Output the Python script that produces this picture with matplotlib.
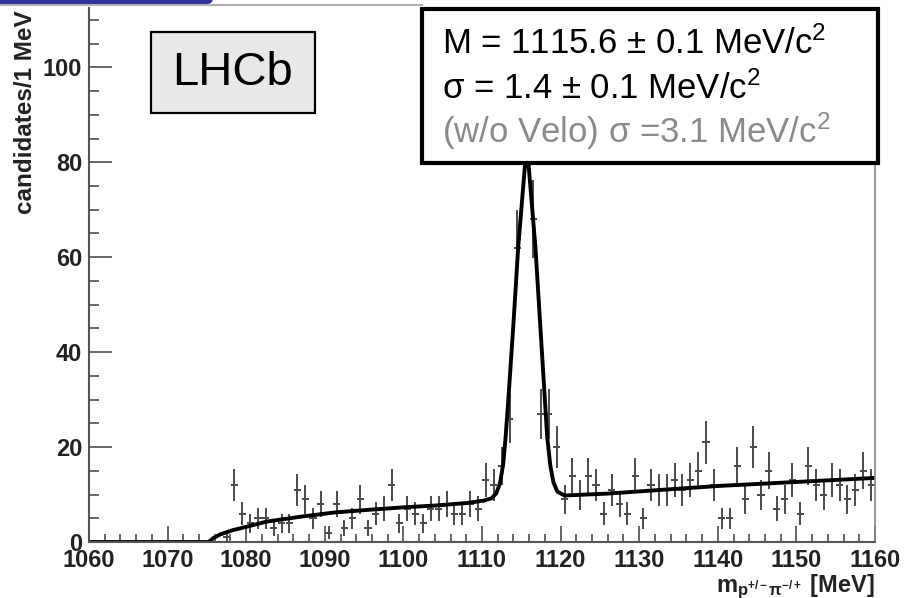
import numpy as np
import matplotlib
matplotlib.use('Agg')
import matplotlib.pyplot as plt
from matplotlib.patches import Rectangle, FancyBboxPatch
from matplotlib.lines import Line2D
from matplotlib.ticker import MultipleLocator
from matplotlib.transforms import IdentityTransform

plt.rcParams['font.family'] = ['Liberation Sans', 'DejaVu Sans']
plt.rcParams['mathtext.fontset'] = 'custom'
plt.rcParams['mathtext.rm'] = 'Liberation Sans'
plt.rcParams['mathtext.it'] = 'Liberation Sans:italic'
plt.rcParams['mathtext.bf'] = 'Liberation Sans:bold'

# 1 MeV bins, lower edges 1060 ... 1159
bin_low = np.arange(1060, 1160)
counts = [0, 0, 0, 0, 0, 0, 0, 0, 0, 0,
          0, 0, 0, 0, 0, 0, 0, 1, 12, 6,
          4, 5, 5, 3, 4, 4, 11, 9, 5, 8,
          2, 8, 3, 5, 9, 3, 6, 7, 12, 4,
          7, 6, 4, 7, 7, 8, 6, 6, 8, 7,
          13, 12, 16, 26, 62, 92, 68, 27, 27, 20,
          9, 14, 10, 14, 12, 6, 11, 8, 6, 14,
          5, 12, 11, 11, 13, 11, 13, 15, 21, 12,
          5, 5, 16, 9, 20, 10, 15, 7, 9, 13,
          6, 16, 12, 10, 13, 12, 9, 11, 15, 12]

# fitted curve
fit_x = [1060, 1075.2, 1075.8, 1076.7, 1078.3, 1080.5, 1082.6, 1086.8, 1091.1,
         1095.7, 1100.0, 1104.2, 1108.0, 1110.2, 1111.2, 1111.8, 1112.3, 1112.7,
         1113.0, 1113.35, 1114.0, 1114.6, 1115.45, 1115.7, 1115.95, 1116.8,
         1117.4, 1118.0, 1118.3, 1118.7, 1119.1, 1119.6, 1120.5, 1126.0,
         1140.0, 1160]
fit_y = [0, 0, 0.8, 1.6, 2.5, 3.4, 4.3, 5.3, 6.2,
         6.8, 7.3, 7.7, 8.2, 8.7, 9.2, 10.2, 12.4, 16.5,
         22, 30, 46, 62, 79, 86, 79, 62,
         46, 30, 22, 16, 12.5, 10.6, 9.8, 10.2,
         11.8, 13.5]

fit_lines = ['M = 1115.6 \u00b1 0.1 MeV/c$^{\\mathregular{2}}$',
             '\u03c3 = 1.4 \u00b1 0.1 MeV/c$^{\\mathregular{2}}$',
             '(w/o Velo) \u03c3 =3.1 MeV/c$^{\\mathregular{2}}$']
line_colors = ['black', 'black', '#8a8a8a']

W, H = 909, 598
fig = plt.figure(figsize=(W / 100, H / 100), dpi=100)
ax = fig.add_axes([89 / W, 1 - 542 / H, (875 - 89) / W, (542 - 8) / H])

centers = bin_low + 0.5
counts = np.array(counts, dtype=float)
ax.errorbar(centers, counts, yerr=np.sqrt(counts), xerr=0.45, fmt='none',
            ecolor='#4a4a4a', elinewidth=1.4)
ax.plot(fit_x, fit_y, color='black', lw=2.8, solid_joinstyle='round')

ax.set_xlim(1060, 1160)
ax.set_ylim(0, 112.5)
ax.xaxis.set_major_locator(MultipleLocator(10))
ax.xaxis.set_minor_locator(MultipleLocator(2))
ax.yaxis.set_major_locator(MultipleLocator(20))
ax.yaxis.set_minor_locator(MultipleLocator(5))

ax.tick_params(axis='x', which='major', direction='in', length=11.5, width=1.4,
               color='#666666', pad=5, labelsize=17, labelcolor='#222222')
ax.tick_params(axis='x', which='minor', direction='in', length=5.8, width=1.4,
               color='#666666')
ax.tick_params(axis='y', which='major', direction='in', length=16.5, width=1.4,
               color='#666666', pad=5, labelsize=17, labelcolor='#222222')
ax.tick_params(axis='y', which='minor', direction='in', length=7.2, width=1.4,
               color='#666666')
for lab in ax.get_xticklabels() + ax.get_yticklabels():
    lab.set_fontweight('bold')

ax.spines['top'].set_visible(False)
for s in ['left', 'bottom']:
    ax.spines[s].set_color('#555555')
    ax.spines[s].set_linewidth(1.5)
ax.spines['right'].set_color('#888888')
ax.spines['right'].set_linewidth(1.2)

fig.text(26 / W, 1 - 10 / H, 'candidates/1 MeV', rotation=90, ha='center',
         va='top', fontsize=17.5, fontweight='bold', color='#222222')
fig.text(875 / W, 1 - 592 / H,
         r'm$_{\mathregular{p^{+/-}\pi^{-/+}}}$ [MeV]',
         ha='right', va='baseline', fontsize=17, fontweight='bold',
         color='#222222')

# LHCb label
fig.add_artist(Rectangle((151 / W, 1 - 113 / H), (315 - 151) / W, (113 - 32) / H,
                         transform=fig.transFigure, fc='#e8e8e8', ec='black',
                         lw=1.6, zorder=5))
fig.text(233 / W, 1 - 73 / H, 'LHCb', ha='center', va='center', fontsize=34,
         color='black', zorder=6)

# fit result box
fig.add_artist(Rectangle((422 / W, 1 - 163 / H), (878 - 422) / W, (163 - 9) / H,
                         transform=fig.transFigure, fc='white', ec='black',
                         lw=3, zorder=5))
for i, (txt, col) in enumerate(zip(fit_lines, line_colors)):
    fig.text(442 / W, 1 - (54 + 44.5 * i) / H, txt, ha='left', va='baseline',
             fontsize=25, color=col, zorder=6)

# slide banner at the top
fig.add_artist(Line2D([0, 422 / W], [1 - 5 / H, 1 - 5 / H],
                      transform=fig.transFigure, color='#b0b0b0', lw=1.5))
fig.add_artist(FancyBboxPatch((-20, H - 4), 233, 20,
                              boxstyle='round,pad=0,rounding_size=6',
                              transform=IdentityTransform(), fc='#33349a',
                              ec='none', zorder=7))

fig.savefig('out.png', dpi=100)
